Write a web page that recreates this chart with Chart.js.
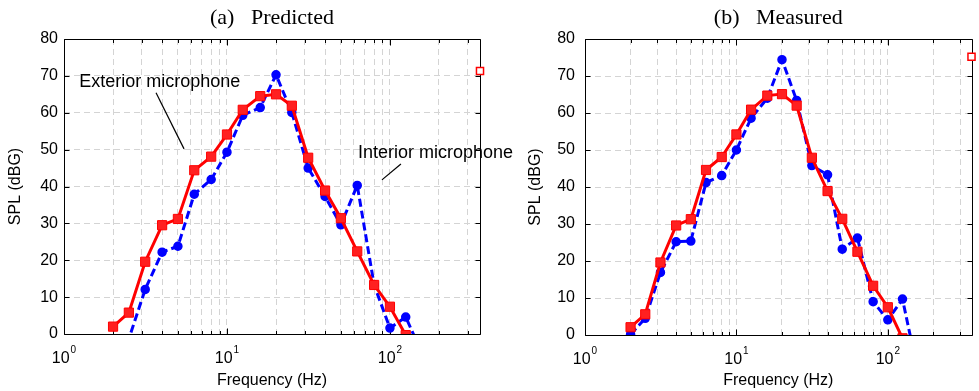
<!DOCTYPE html>
<html>
<head>
<meta charset="utf-8">
<script src="https://cdn.jsdelivr.net/npm/chart.js@4"></script>
<style>
  html, body { margin: 0; padding: 0; background: #fff; }
  #wrap { position: relative; width: 979px; height: 391px; overflow: hidden; }
  canvas { position: absolute; top: 0; }
  #chartA { left: 0; z-index: 2; }
  #chartB { left: 490px; z-index: 1; }
</style>
</head>
<body>
<div id="wrap">
  <canvas id="chartB" width="489" height="391"></canvas>
  <canvas id="chartA" width="530" height="391"></canvas>
</div>
<script>
// 1/3 octave band centre frequencies (Hz)
const freqs = [2, 2.5, 3.15, 4, 5, 6.3, 8, 10, 12.5, 16, 20, 25, 31.5, 40, 50, 63, 80, 100, 125, 160];

// (a) Predicted
const extPredicted = [2.0, 5.8, 19.6, 29.5, 31.2, 44.4, 48.1, 54.1, 60.8, 64.5, 65.0, 61.9, 47.8, 38.9, 31.4, 22.4, 13.3, 7.4, -0.3, null];
const intPredicted = [-8, -1.3, 12.1, 22.2, 23.8, 37.9, 41.9, 49.3, 59.3, 61.4, 70.3, 60.1, 45.0, 37.3, 29.6, 40.3, 13.3, 1.6, 4.6, -6];

// (b) Measured
const extMeasured = [2.1, 5.6, 19.6, 29.6, 31.3, 44.6, 48.1, 54.2, 60.9, 64.7, 65.1, 62.0, 47.9, 38.9, 31.4, 22.5, 13.3, 7.5, -0.9, null];
const intMeasured = [0.2, 4.5, 16.9, 25.2, 25.4, 41.2, 43.1, 50.0, 58.6, 64.0, 74.4, 63.4, 45.8, 43.3, 23.2, 26.2, 9.0, 4.1, 9.7, -11];

// stray legend marker at the right edge of each panel
const keyPredicted = [71.3];
const keyMeasured = [75.2];

const xMin = 1, xMax = 357;
const xTicks = [1, 2, 3, 4, 5, 6, 7, 8, 9, 10, 20, 30, 40, 50, 60, 70, 80, 90, 100, 200, 300];
const xDecades = [1, 10, 100];
const yTicks = [0, 10, 20, 30, 40, 50, 60, 70, 80];

const sans = "'Liberation Sans', Arial, sans-serif";
const serif = "'Liberation Serif', 'Times New Roman', serif";

function points(vals) {
  return freqs.map((f, i) => ({ x: f, y: vals[i] })).filter(p => p.y !== null);
}

const framePlugin = {
  id: 'frame',
  beforeDatasetsDraw(chart) {
    const { ctx, chartArea: a } = chart;
    const xs = chart.scales.x, ys = chart.scales.y;
    const L = Math.round(a.left) + 0.5, R = Math.round(a.right) + 0.5;
    const T = Math.round(a.top) + 0.5, B = Math.round(a.bottom) + 0.5;
    ctx.save();
    ctx.strokeStyle = '#000';
    ctx.lineWidth = 1;
    ctx.beginPath();
    xTicks.forEach(v => {
      const px = Math.round(xs.getPixelForValue(v)) + 0.5;
      const len = xDecades.includes(v) ? 6 : 3.5;
      ctx.moveTo(px, B); ctx.lineTo(px, B - len);
      ctx.moveTo(px, T); ctx.lineTo(px, T + len);
    });
    yTicks.forEach(v => {
      const py = Math.round(ys.getPixelForValue(v)) + 0.5;
      ctx.moveTo(L, py); ctx.lineTo(L + 5, py);
      ctx.moveTo(R, py); ctx.lineTo(R - 5, py);
    });
    ctx.stroke();
    ctx.beginPath();
    ctx.rect(L, T, R - L, B - T);
    ctx.stroke();
    ctx.restore();
  },
  afterDraw(chart, args, opts) {
    const { ctx, chartArea: a } = chart;
    const xs = chart.scales.x, ys = chart.scales.y;
    ctx.save();
    ctx.fillStyle = '#000';
    // decade labels with superscript exponents
    xDecades.forEach(d => {
      const px = xs.getPixelForValue(d);
      const exp = String(Math.round(Math.log10(d)));
      ctx.font = '16px ' + sans;
      const w1 = ctx.measureText('10').width;
      ctx.font = '10px ' + sans;
      const w2 = ctx.measureText(exp).width;
      const x0 = px - (w1 + 1 + w2) / 2;
      ctx.textAlign = 'left';
      ctx.textBaseline = 'alphabetic';
      ctx.font = '16px ' + sans;
      ctx.fillText('10', x0, a.bottom + 29);
      ctx.font = '10px ' + sans;
      ctx.fillText(exp, x0 + w1 + 1, a.bottom + 19);
    });
    // panel title
    ctx.font = '22px ' + serif;
    ctx.textAlign = 'center';
    ctx.textBaseline = 'middle';
    ctx.fillText(opts.title, (a.left + a.right) / 2, 18);
    // callouts
    (opts.notes || []).forEach(n => {
      ctx.font = '18px ' + sans;
      ctx.textAlign = 'left';
      ctx.textBaseline = 'middle';
      ctx.fillText(n.text, xs.getPixelForValue(n.at[0]), ys.getPixelForValue(n.at[1]));
      ctx.beginPath();
      ctx.lineWidth = 1.2;
      ctx.strokeStyle = '#000';
      ctx.moveTo(xs.getPixelForValue(n.from[0]), ys.getPixelForValue(n.from[1]));
      ctx.lineTo(xs.getPixelForValue(n.to[0]), ys.getPixelForValue(n.to[1]));
      ctx.stroke();
    });
    ctx.restore();
  }
};

function makeChart(id, p) {
  return new Chart(document.getElementById(id), {
    type: 'line',
    data: {
      datasets: [
        {
          data: points(p.ext),
          borderColor: '#ff0000',
          borderWidth: 3,
          pointStyle: 'rect',
          pointRadius: 6.5,
          pointBackgroundColor: '#ff2020',
          pointBorderColor: '#ff0000',
          pointBorderWidth: 1,
          tension: 0
        },
        {
          data: points(p.int),
          borderColor: '#0000ff',
          borderWidth: 3,
          borderDash: [8, 4],
          pointStyle: 'circle',
          pointRadius: 4,
          pointBackgroundColor: '#0000ff',
          pointBorderColor: '#0000ff',
          pointBorderWidth: 1.5,
          tension: 0
        },
        {
          data: p.key.map(v => ({ x: xMax, y: v })),
          showLine: false,
          pointStyle: 'rect',
          pointRadius: 5,
          pointBackgroundColor: '#ffffff',
          pointBorderColor: '#ff0000',
          pointBorderWidth: 1.5,
          clip: false
        }
      ]
    },
    options: {
      responsive: false,
      animation: false,
      devicePixelRatio: 1,
      events: [],
      layout: { padding: { left: p.padLeft, right: p.padRight, top: 39, bottom: 0 } },
      plugins: {
        legend: { display: false },
        tooltip: { enabled: false },
        frame: { title: p.title, notes: p.notes }
      },
      scales: {
        x: {
          type: 'logarithmic',
          min: xMin,
          max: xMax,
          afterBuildTicks: s => { s.ticks = xTicks.map(v => ({ value: v })); },
          afterFit: s => { s.height = p.xAxisH; },
          ticks: { display: false },
          grid: { color: '#d4d4d4', lineWidth: 1, drawTicks: false },
          border: { display: false, dash: [6, 4] },
          title: {
            display: true,
            text: 'Frequency (Hz)',
            color: '#000',
            font: { family: sans, size: 16 },
            padding: { top: 0, bottom: 1 }
          }
        },
        y: {
          min: 0,
          max: 80,
          afterBuildTicks: s => { s.ticks = yTicks.map(v => ({ value: v })); },
          afterFit: s => { s.width = p.yAxisW; },
          ticks: { color: '#000', font: { family: sans, size: 16 }, padding: p.tickPad },
          grid: { color: '#d4d4d4', lineWidth: 1, drawTicks: false },
          border: { display: false, dash: [6, 4] },
          title: {
            display: true,
            text: 'SPL (dBG)',
            color: '#000',
            font: { family: sans, size: 16 },
            padding: { top: 6, bottom: 0 }
          }
        }
      }
    },
    plugins: [framePlugin]
  });
}

makeChart('chartA', {
  ext: extPredicted, int: intPredicted, key: keyPredicted,
  title: '(a)   Predicted',
  padLeft: 0, padRight: 50, yAxisW: 64, xAxisH: 57, tickPad: 6,
  notes: [
    { text: 'Exterior microphone', at: [1.24, 68.3], from: [3.67, 65.4], to: [5.45, 50.2] },
    { text: 'Interior microphone', at: [63.6, 49.1], from: [89.3, 41.8], to: [116.8, 46.1] }
  ]
});

makeChart('chartB', {
  ext: extMeasured, int: intMeasured, key: keyMeasured,
  title: '(b)   Measured',
  padLeft: 30, padRight: 1, yAxisW: 65, xAxisH: 56, tickPad: 10,
  notes: []
});
</script>
</body>
</html>
